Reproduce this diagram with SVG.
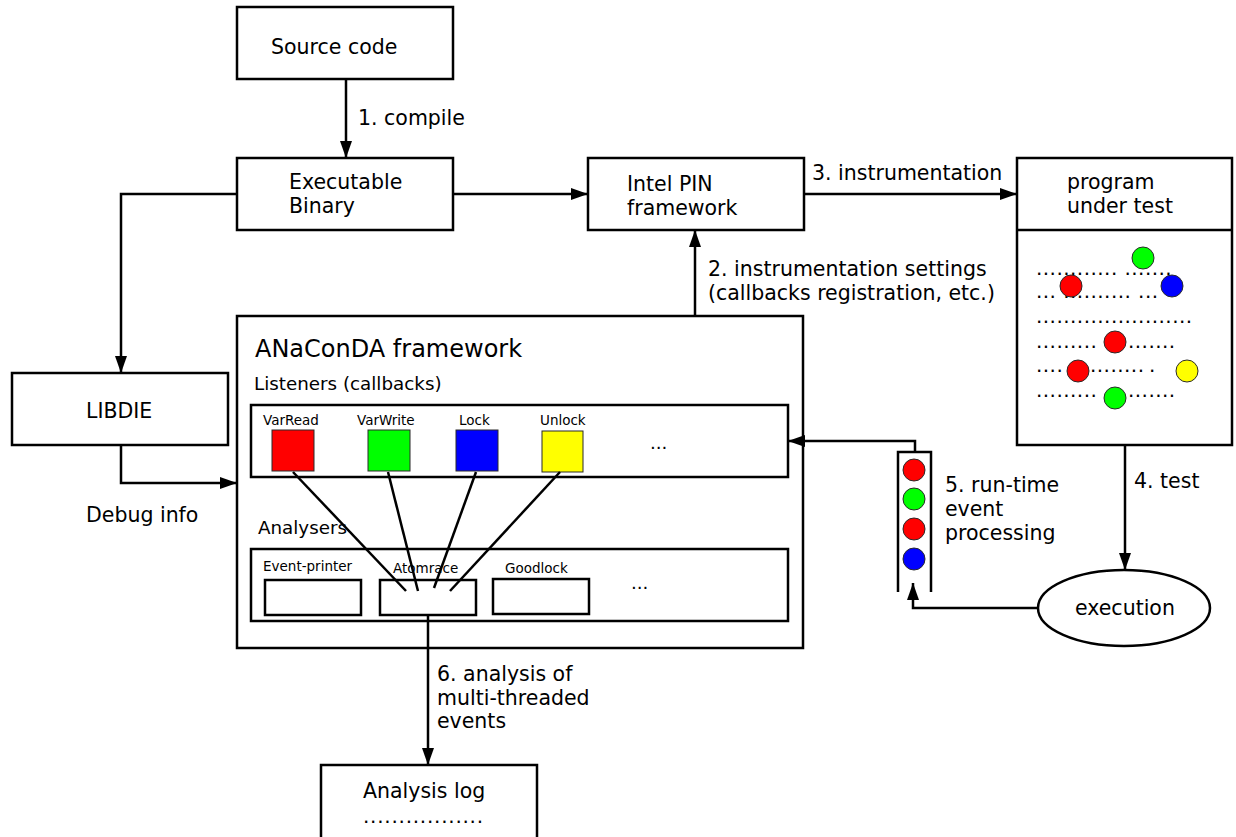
<svg xmlns="http://www.w3.org/2000/svg" width="1236" height="837" viewBox="0 0 1236 837">
  <style>
    .box { fill: #ffffff; stroke: #000000; stroke-width: 2.5; }
    .frame { fill: none; stroke: #000000; stroke-width: 2.5; }
    .t { font-family: "DejaVu Sans", "Liberation Sans", sans-serif; font-size: 20.5px; fill: #000000; }
    .big { font-size: 24px; }
    .sec { font-size: 18.3px; }
    .small { font-size: 13.5px; }
    .dots { font-family: "DejaVu Sans", "Liberation Sans", sans-serif; font-size: 20px; letter-spacing: 0.45px; fill: #000000; }
    .conn { fill: none; stroke: #000000; stroke-width: 2.5; }
    .wire { fill: none; stroke: #000000; stroke-width: 2.5; }
    .ev { stroke: #2a2a2a; stroke-width: 1; }
    .red { fill: #ff0000; }
    .green { fill: #00ff00; }
    .blue { fill: #0000ff; }
    .yellow { fill: #ffff00; }
  </style>
  <defs>
    <marker id="arrow" markerUnits="userSpaceOnUse" markerWidth="18" markerHeight="13" refX="17" refY="6" orient="auto">
      <path d="M0,0 L17,6 L0,12 z" fill="#000000"/>
    </marker>
  </defs>

  <rect width="1236" height="837" fill="#ffffff"/>

  <!-- source code -->
  <g id="source-code">
    <rect class="box" x="237" y="7" width="216" height="72"/>
    <text class="t" x="271" y="54">Source code</text>
  </g>

  <!-- executable binary -->
  <g id="executable-binary">
    <rect class="box" x="237" y="158" width="216" height="72"/>
    <text class="t" x="289" y="189">Executable</text>
    <text class="t" x="289" y="213">Binary</text>
  </g>

  <!-- Intel PIN -->
  <g id="intel-pin">
    <rect class="box" x="588" y="158" width="216" height="72"/>
    <text class="t" x="627" y="191">Intel PIN</text>
    <text class="t" x="627" y="215">framework</text>
  </g>

  <!-- LIBDIE -->
  <g id="libdie">
    <rect class="box" x="12" y="373" width="216" height="72"/>
    <text class="t" x="86" y="418">LIBDIE</text>
  </g>

  <!-- program under test with its event stream -->
  <g id="program-under-test">
    <rect class="box" x="1017" y="158" width="215" height="287"/>
    <line class="frame" x1="1017" y1="230" x2="1232" y2="230"/>
    <text class="t" x="1067" y="189">program</text>
    <text class="t" x="1067" y="213">under test</text>
    <text class="dots" x="1036" y="275">............ .......</text>
    <text class="dots" x="1036" y="298">... .......... ...</text>
    <text class="dots" x="1036" y="323">.......................</text>
    <text class="dots" x="1036" y="348">.........</text>
    <text class="dots" x="1128" y="348">.......</text>
    <text class="dots" x="1036" y="372">....</text>
    <text class="dots" x="1090" y="372">........</text>
    <text class="dots" x="1149" y="372">.</text>
    <text class="dots" x="1036" y="397">.........</text>
    <text class="dots" x="1128" y="397">.......</text>
    <circle class="ev green" cx="1143" cy="258" r="11"/>
    <circle class="ev red" cx="1071" cy="286" r="11"/>
    <circle class="ev blue" cx="1172" cy="286" r="11"/>
    <circle class="ev red" cx="1115" cy="342" r="11"/>
    <circle class="ev red" cx="1078" cy="371" r="11"/>
    <circle class="ev yellow" cx="1187" cy="371" r="11"/>
    <circle class="ev green" cx="1115" cy="398" r="11"/>
  </g>

  <!-- execution -->
  <g id="execution">
    <ellipse class="box" cx="1124" cy="608" rx="86" ry="38"/>
    <text class="t" x="1075" y="615">execution</text>
  </g>

  <!-- event queue -->
  <g id="event-queue">
    <path class="frame" d="M898,592 V452 H931 V592"/>
    <circle class="ev red" cx="914" cy="470" r="11"/>
    <circle class="ev green" cx="914" cy="499" r="11"/>
    <circle class="ev red" cx="914" cy="529" r="11"/>
    <circle class="ev blue" cx="914" cy="559" r="11"/>
  </g>

  <!-- ANaConDA framework -->
  <g id="anaconda">
    <rect class="box" x="237" y="316" width="566" height="332"/>
    <text class="t big" x="255" y="357">ANaConDA framework</text>
    <text class="t sec" x="254" y="390">Listeners (callbacks)</text>
    <text class="t sec" x="258" y="534">Analysers</text>
  </g>

  <g id="listeners">
    <rect class="frame" x="251" y="405" width="537" height="72"/>
    <text class="t small" x="263" y="425">VarRead</text>
    <text class="t small" x="357" y="425">VarWrite</text>
    <text class="t small" x="459" y="425">Lock</text>
    <text class="t small" x="540" y="425">Unlock</text>
    <rect class="ev red" x="272" y="430" width="42" height="41"/>
    <rect class="ev green" x="368" y="430" width="42" height="41"/>
    <rect class="ev blue" x="456" y="430" width="42" height="41"/>
    <rect class="ev yellow" x="542" y="431" width="41" height="41"/>
    <text class="t sec" x="650" y="449">...</text>
  </g>

  <g id="analysers">
    <rect class="frame" x="251" y="549" width="537" height="72"/>
    <text class="t small" x="263" y="571">Event-printer</text>
    <rect class="frame" x="265" y="580" width="96" height="35"/>
    <text class="t small" x="393" y="573">Atomrace</text>
    <rect class="frame" x="380" y="580" width="96" height="35"/>
    <text class="t small" x="505" y="573">Goodlock</text>
    <rect class="frame" x="493" y="579" width="96" height="35"/>
    <text class="t sec" x="631" y="589">...</text>
  </g>

  <!-- analysis log -->
  <g id="analysis-log">
    <rect class="box" x="321" y="765" width="216" height="80"/>
    <text class="t" x="363" y="798">Analysis log</text>
    <text class="dots" x="363" y="823" style="letter-spacing:0.75px">.................</text>
  </g>

  <!-- connectors -->
  <g id="connectors">
    <line class="conn" x1="346" y1="79" x2="346" y2="158" marker-end="url(#arrow)"/>
    <line class="conn" x1="453" y1="194" x2="588" y2="194" marker-end="url(#arrow)"/>
    <line class="conn" x1="804" y1="194" x2="1017" y2="194" marker-end="url(#arrow)"/>
    <line class="conn" x1="695" y1="316" x2="695" y2="230" marker-end="url(#arrow)"/>
    <path class="conn" d="M237,194 H121 V373" marker-end="url(#arrow)"/>
    <path class="conn" d="M121,445 V483 H237" marker-end="url(#arrow)"/>
    <line class="conn" x1="1125" y1="445" x2="1125" y2="570" marker-end="url(#arrow)"/>
    <path class="conn" d="M1038,608 H913 V583" marker-end="url(#arrow)"/>
    <path class="conn" d="M915,452 V441 H788" marker-end="url(#arrow)"/>
    <line class="conn" x1="428" y1="615" x2="428" y2="765" marker-end="url(#arrow)"/>
    <!-- callbacks wired into the Atomrace analyser -->
    <line class="wire" x1="293" y1="472" x2="406" y2="591"/>
    <line class="wire" x1="388" y1="472" x2="418" y2="591"/>
    <line class="wire" x1="476" y1="472" x2="434" y2="588"/>
    <line class="wire" x1="560" y1="472" x2="450" y2="591"/>
  </g>

  <!-- connector labels -->
  <g id="labels">
    <text class="t" x="358" y="125">1. compile</text>
    <text class="t" x="812" y="180">3. instrumentation</text>
    <text class="t" x="708" y="276">2. instrumentation settings</text>
    <text class="t" x="708" y="300">(callbacks registration, etc.)</text>
    <text class="t" x="86" y="522">Debug info</text>
    <text class="t" x="1134" y="488">4. test</text>
    <text class="t" x="945" y="492">5. run-time</text>
    <text class="t" x="945" y="516">event</text>
    <text class="t" x="945" y="540">processing</text>
    <text class="t" x="437" y="681">6. analysis of</text>
    <text class="t" x="437" y="705">multi-threaded</text>
    <text class="t" x="437" y="728">events</text>
  </g>
</svg>
